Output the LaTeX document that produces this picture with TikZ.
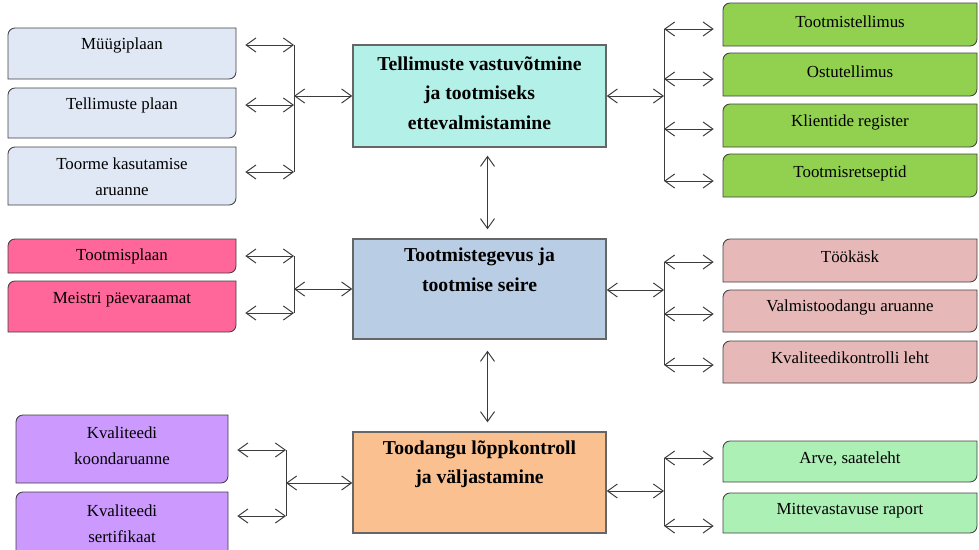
\documentclass[tikz,border=0pt]{standalone}
\usepackage{fontspec}
\setmainfont{Liberation Serif}
\usetikzlibrary{arrows.meta, positioning, fit, calc}
\definecolor{DocBlue}{RGB}{224,232,246}
\definecolor{DocGreen}{RGB}{146,208,80}
\definecolor{DocPink}{RGB}{255,102,153}
\definecolor{DocRose}{RGB}{230,185,184}
\definecolor{DocPurple}{RGB}{204,153,255}
\definecolor{DocMint}{RGB}{172,240,182}
\definecolor{MainCyan}{RGB}{178,240,232}
\definecolor{MainBlue}{RGB}{185,205,229}
\definecolor{MainOrange}{RGB}{250,192,144}
\definecolor{EdgeGray}{RGB}{64,64,64}
\definecolor{LinkGray}{RGB}{60,60,60}

\tikzset{
  doctext/.style={align=center, inner sep=0pt, font=\fontsize{12}{18.5}\selectfont},
  mainbox/.style={draw=EdgeGray!80, line width=1pt, inner sep=0pt, minimum width=6.325cm},
  maintext/.style={align=center, inner sep=0pt, font=\fontsize{14}{21}\selectfont\bfseries},
  bus/.style={draw=LinkGray, line width=0.7pt},
  link/.style={bus, {Straight Barb[length=7pt,width=10pt]}-{Straight Barb[length=7pt,width=10pt]}},
}

\newcommand{\docbox}[8]{%
  \draw[draw=EdgeGray, line width=0.6pt, fill=#6] (#2,#3) -- (#2,#5-7) arc[start angle=180, end angle=90, radius=7] -- (#4,#5) -- (#4,#3+7) arc[start angle=0, end angle=-90, radius=7] -- cycle;
  \node[fit={(#2,#3) (#4,#5)}, inner sep=0pt] (#1) {};
  \node[doctext] (#1-t) at ({(#2+#4)/2},#7) {#8};
}

\begin{document}
\begin{tikzpicture}[x=0.025cm, y=0.025cm]
\useasboundingbox (0,0) rectangle (979,549);

\node[mainbox, fill=MainCyan, minimum height=2.55cm] (orders) at (479.5,453) {};
\node[maintext] (orders-t) at (479.5,456) {Tellimuste vastuvõtmine\\ja tootmiseks\\ettevalmistamine};
\node[mainbox, fill=MainBlue, minimum height=2.5cm] (production) at (479.5,260) {};
\node[maintext] (production-t) at (479.5,279) {Tootmistegevus ja\\tootmise seire};
\node[mainbox, fill=MainOrange, minimum height=2.525cm] (final) at (479.5,66.5) {};
\node[maintext] (final-t) at (479.5,85) {Toodangu lõppkontroll\\ja väljastamine};

\docbox{muugi}{8}{470}{236}{521}{DocBlue}{504}{Müügiplaan}
\docbox{tplaan}{8}{411}{236}{461}{DocBlue}{444}{Tellimuste plaan}
\docbox{toorme}{8}{344}{236}{402}{DocBlue}{372}{Toorme kasutamise\\aruanne}

\docbox{ttell}{723}{503}{977}{546}{DocGreen}{527}{Tootmistellimus}
\docbox{ostu}{723}{453}{977}{496}{DocGreen}{477}{Ostutellimus}
\docbox{klient}{723}{402}{977}{445}{DocGreen}{427}{Klientide register}
\docbox{retsept}{723}{352}{977}{395}{DocGreen}{376}{Tootmisretseptid}

\docbox{tpl}{8}{276}{236}{310}{DocPink}{293}{Tootmisplaan}
\docbox{meister}{8}{217}{236}{268}{DocPink}{249}{Meistri päevaraamat}

\docbox{kask}{723}{267}{977}{310}{DocRose}{292}{Töökäsk}
\docbox{valmis}{723}{217}{977}{259}{DocRose}{242}{Valmistoodangu aruanne}
\docbox{kontroll}{723}{166}{977}{208}{DocRose}{191}{Kvaliteedikontrolli leht}

\docbox{koond}{16}{66}{228}{134}{DocPurple}{103}{Kvaliteedi\\koondaruanne}
\docbox{sert}{16}{-10}{228}{57}{DocPurple}{25}{Kvaliteedi\\sertifikaat}

\docbox{arve}{723}{67}{977}{108}{DocMint}{90}{Arve, saateleht}
\docbox{mitte}{723}{16}{977}{56}{DocMint}{38}{Mittevastavuse raport}

\coordinate (a0) at (294,453);
\coordinate (a1) at (294,504);
\coordinate (a2) at (294,444);
\coordinate (a3) at (294,377);
\coordinate (b0) at (664,453);
\coordinate (b1) at (664,520);
\coordinate (b2) at (664,470);
\coordinate (b3) at (664,420);
\coordinate (b4) at (664,368);
\coordinate (c0) at (294,260);
\coordinate (c1) at (294,293);
\coordinate (c2) at (294,236);
\coordinate (d0) at (664,259);
\coordinate (d1) at (664,287);
\coordinate (d2) at (664,235);
\coordinate (d3) at (664,184);
\coordinate (e0) at (286,66);
\coordinate (e1) at (286,99);
\coordinate (e2) at (286,33);
\coordinate (f0) at (664,58);
\coordinate (f1) at (664,91);
\coordinate (f2) at (664,23);

\draw[bus] (a1) -- (a3);
\draw[bus] (b1) -- (b4);
\draw[bus] (c1) -- (c2);
\draw[bus] (d1) -- (d3);
\draw[bus] (e1) -- (e2);
\draw[bus] (f1) -- (f2);

\foreach \n/\t in {muugi/a1, tplaan/a2, toorme/a3, tpl/c1, meister/c2, koond/e1, sert/e2}
  \draw[link] ($(\n.east |- \t)+(9,0)$) -- (\t);
\foreach \n/\t in {ttell/b1, ostu/b2, klient/b3, retsept/b4, kask/d1, valmis/d2, kontroll/d3, arve/f1, mitte/f2}
  \draw[link] (\t) -- ($(\n.west |- \t)+(-9,0)$);

\draw[link] (a0) -- (orders.west |- a0);
\draw[link] (orders.east |- b0) -- (b0);
\draw[link] (c0) -- (production.west |- c0);
\draw[link] (production.east |- d0) -- (d0);
\draw[link] (e0) -- (final.west |- e0);
\draw[link] (final.east |- f0) -- (f0);

\draw[link] ([xshift=2mm, yshift=-2mm]orders.south) -- ([xshift=2mm, yshift=2.25mm]production.north);
\draw[link] ([xshift=2mm, yshift=-2.75mm]production.south) -- ([xshift=2mm, yshift=2.25mm]final.north);
\end{tikzpicture}
\end{document}
